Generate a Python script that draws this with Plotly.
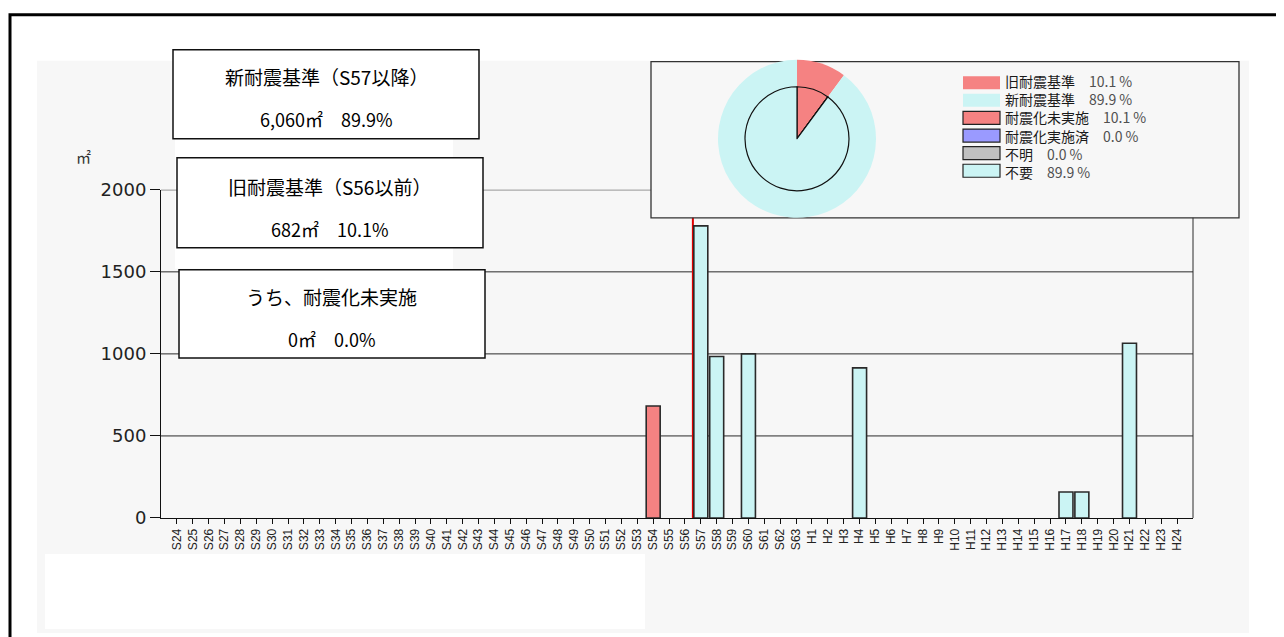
import plotly.graph_objects as go

W, H = 1284, 637

# ---------------- data ----------------
categories = ["S24", "S25", "S26", "S27", "S28", "S29", "S30", "S31", "S32", "S33",
              "S34", "S35", "S36", "S37", "S38", "S39", "S40", "S41", "S42", "S43",
              "S44", "S45", "S46", "S47", "S48", "S49", "S50", "S51", "S52", "S53",
              "S54", "S55", "S56", "S57", "S58", "S59", "S60", "S61", "S62", "S63",
              "H1", "H2", "H3", "H4", "H5", "H6", "H7", "H8", "H9", "H10",
              "H11", "H12", "H13", "H14", "H15", "H16", "H17", "H18", "H19", "H20",
              "H21", "H22", "H23", "H24"]
old_years = ["S54"]
old_area = [682]
new_years = ["S57", "S58", "S60", "H4", "H17", "H18", "H21"]
new_area = [1780, 984, 1000, 915, 158, 158, 1065]
y_ticks = [0, 500, 1000, 1500, 2000]
outer_labels = ["旧耐震基準", "新耐震基準"]
inner_labels = ["耐震化未実施", "耐震化実施済", "不明", "不要"]
inner_values = [682, 0, 0, 6060]
unreinforced_area = 0
boundary_year = "S57"

RED = "#f58282"
CYAN = "#cbf4f4"
BLUE = "#9a9aff"
GRAY = "#c0c0c0"
JP = "Noto Sans CJK JP"
LAT = "DejaVu Sans"
TICKF = "Liberation Sans"

# page placement of the drawing (observed offset / scale of the rendered page)
OX, OY, SY = 8.0, 18.3, 0.9665


def px(x):
    return (x - OX) / W


def py(y):
    return 1 - ((y - OY) / SY) / H


old_total = sum(old_area)
new_total = sum(new_area)
grand = old_total + new_total
old_pct = old_total / grand * 100
new_pct = new_total / grand * 100
inner_total = sum(inner_values)
inner_pct = [v / inner_total * 100 for v in inner_values]

xdom = [px(161), px(1193)]
ydom = [py(517), py(189)]

fig = go.Figure()

fig.add_trace(go.Bar(x=old_years, y=old_area, width=0.88,
                     marker=dict(color=RED, line=dict(color="#2a2a2a", width=1.6)),
                     showlegend=False, hoverinfo="x+y"))
fig.add_trace(go.Bar(x=new_years, y=new_area, width=0.88,
                     marker=dict(color=CYAN, line=dict(color="#2a2a2a", width=1.6)),
                     showlegend=False, hoverinfo="x+y"))

# pies
cx, cy, r_out, r_in = 797, 138, 79, 52
fig.add_trace(go.Pie(labels=outer_labels, values=[old_total, new_total], sort=False,
                     direction="clockwise", rotation=0, textinfo="none", hoverinfo="label+percent",
                     marker=dict(colors=[RED, CYAN], line=dict(width=0)),
                     domain=dict(x=[px(cx - r_out), px(cx + r_out)], y=[py(cy + r_out), py(cy - r_out)]),
                     showlegend=False))
fig.add_trace(go.Pie(labels=inner_labels, values=inner_values, sort=False,
                     direction="clockwise", rotation=0, textinfo="none", hoverinfo="label+percent",
                     marker=dict(colors=[RED, BLUE, GRAY, CYAN], line=dict(color="#111111", width=1.2)),
                     domain=dict(x=[px(cx - r_in), px(cx + r_in)], y=[py(cy + r_in), py(cy - r_in)]),
                     showlegend=False))

shapes = []
# page frame
shapes.append(dict(type="rect", xref="paper", yref="paper", x0=px(10), x1=px(1310), y0=py(670), y1=py(14),
                   line=dict(color="black", width=3), fillcolor="rgba(0,0,0,0)", layer="below"))
# gray background
shapes.append(dict(type="rect", xref="paper", yref="paper", x0=px(37), x1=px(1249), y0=py(632), y1=py(60),
                   line=dict(width=0), fillcolor="#f7f7f7", layer="below"))
shapes.append(dict(type="rect", xref="paper", yref="paper", x0=px(45), x1=px(645), y0=py(628), y1=py(553),
                   line=dict(width=0), fillcolor="#ffffff", layer="below"))
shapes.append(dict(type="rect", xref="paper", yref="paper", x0=px(175), x1=px(453), y0=py(268), y1=py(60),
                   line=dict(width=0), fillcolor="#ffffff", layer="below"))
# grid lines
for v in y_ticks[1:]:
    shapes.append(dict(type="line", xref="paper", yref="y", x0=xdom[0], x1=xdom[1], y0=v, y1=v,
                       line=dict(color="#2a2a2a", width=1), layer="below"))
# right frame line
shapes.append(dict(type="line", xref="paper", yref="y", x0=xdom[1], x1=xdom[1], y0=0, y1=y_ticks[-1],
                   line=dict(color="#2a2a2a", width=1), layer="below"))
# boundary line between old / new standard
bx = categories.index(boundary_year) - 0.5
shapes.append(dict(type="line", xref="x", yref="paper", x0=bx, x1=bx, y0=ydom[0], y1=ydom[1],
                   line=dict(color="#e00000", width=2), layer="below"))

# text boxes
boxes = [
    (173, 479, 49, 138, "新耐震基準（S57以降）", f"{new_total:,}㎡　{new_pct:.1f}%", 76, 118),
    (177, 483, 157, 247, "旧耐震基準（S56以前）", f"{old_total:,}㎡　{old_pct:.1f}%", 186, 228),
    (179, 485, 269, 357, "うち、耐震化未実施", f"{unreinforced_area:,}㎡　{unreinforced_area / grand * 100:.1f}%", 296, 338),
]
annotations = []
for x0, x1, y0, y1, t1, t2, l1, l2 in boxes:
    shapes.append(dict(type="rect", xref="paper", yref="paper", x0=px(x0), x1=px(x1), y0=py(y1), y1=py(y0),
                       line=dict(color="#111111", width=1.5), fillcolor="#ffffff", layer="below"))
    xc = (x0 + x1) / 2
    annotations.append(dict(xref="paper", yref="paper", x=px(xc), y=py(l1), text=t1, showarrow=False,
                            xanchor="center", yanchor="middle", font=dict(family=JP, size=19, color="#000000")))
    annotations.append(dict(xref="paper", yref="paper", x=px(xc), y=py(l2), text=t2, showarrow=False,
                            xanchor="center", yanchor="middle", font=dict(family=JP, size=18, color="#000000")))

# pie panel box
shapes.append(dict(type="rect", xref="paper", yref="paper", x0=px(651), x1=px(1239), y0=py(217), y1=py(61),
                   line=dict(color="#333333", width=1.3), fillcolor="#f7f7f7", layer="below"))

# legend (swatches + one multi-line text block)
legend_items = [
    (outer_labels[0], old_pct, RED, False),
    (outer_labels[1], new_pct, CYAN, False),
    (inner_labels[0], inner_pct[0], RED, True),
    (inner_labels[1], inner_pct[1], BLUE, True),
    (inner_labels[2], inner_pct[2], GRAY, True),
    (inner_labels[3], inner_pct[3], CYAN, True),
]
LEG_FONT = 14
row_step = LEG_FONT * 1.3 * SY
row0 = 82
lines = []
for i, (lab, pct, col, border) in enumerate(legend_items):
    yc = row0 + i * row_step
    shapes.append(dict(type="rect", xref="paper", yref="paper", x0=px(963), x1=px(1000),
                       y0=py(yc + 6.5), y1=py(yc - 6.5),
                       line=dict(color="#222222" if border else col, width=1.2 if border else 0),
                       fillcolor=col, layer="below"))
    lines.append(f"{lab}　<span style='color:#505050'>{pct:.1f} %</span>")
leg_mid = row0 + (len(legend_items) - 1) * row_step / 2
annotations.append(dict(xref="paper", yref="paper", x=px(1003), y=py(leg_mid), showarrow=False,
                        xanchor="left", yanchor="middle", align="left",
                        text="<br>".join(lines),
                        font=dict(family=JP, size=LEG_FONT, color="#1a1a1a")))

# unit label
annotations.append(dict(xref="paper", yref="paper", x=px(83), y=py(156), text="㎡", showarrow=False,
                        xanchor="center", yanchor="middle", font=dict(family=JP, size=15, color="#333333")))

fig.update_layout(
    width=W, height=H,
    margin=dict(l=0, r=0, t=0, b=0),
    paper_bgcolor="white", plot_bgcolor="rgba(0,0,0,0)",
    barmode="overlay",
    shapes=shapes, annotations=annotations,
    xaxis=dict(type="category", categoryorder="array", categoryarray=categories,
               tickmode="array", tickvals=categories, ticktext=categories,
               range=[-1, len(categories)], domain=xdom,
               showline=True, linecolor="#111111", linewidth=1, showgrid=False, zeroline=False,
               ticks="outside", ticklen=5, tickcolor="#111111", tickangle=-90,
               tickfont=dict(family=TICKF, size=12, color="#222222"), fixedrange=True),
    yaxis=dict(range=[0, 2000], domain=ydom, tickmode="array", tickvals=y_ticks,
               showline=True, linecolor="#111111", linewidth=1, showgrid=False, zeroline=False,
               ticks="outside", ticklen=10, tickcolor="#111111",
               tickfont=dict(family=LAT, size=18, color="#222222"), fixedrange=True),
    hovermode="closest",
)

fig.write_html("out.html")
